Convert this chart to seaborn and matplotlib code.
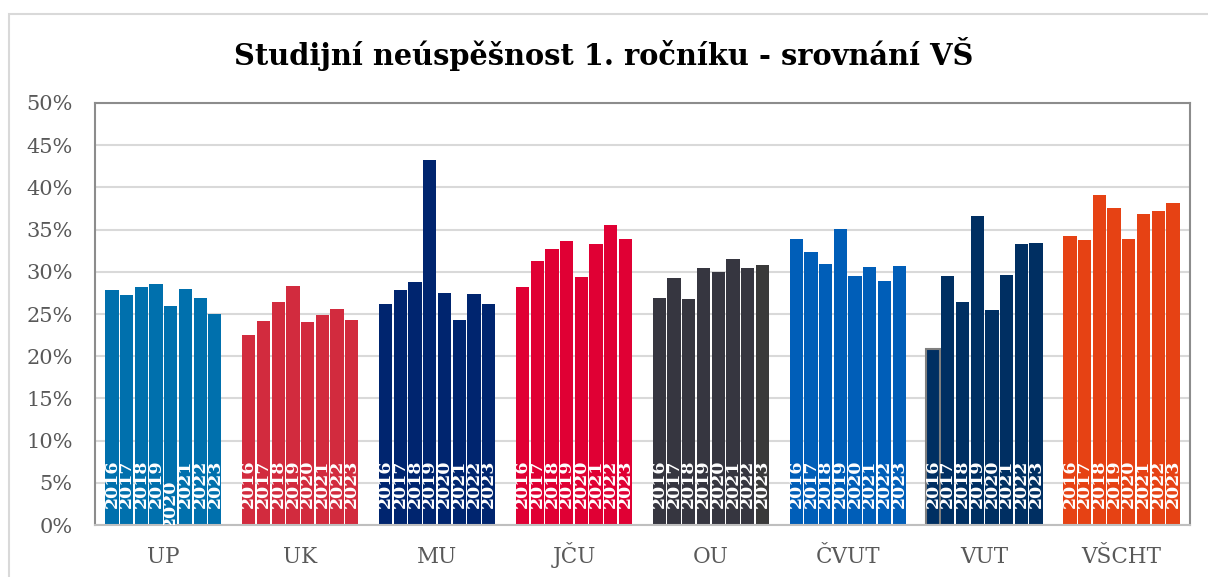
import pandas as pd
import matplotlib
matplotlib.use("Agg")
import matplotlib.pyplot as plt
import matplotlib.patches as patches
import seaborn as sns


# data
skoly = ['UP', 'UK', 'MU', 'JČU', 'OU', 'ČVUT', 'VUT', 'VŠCHT']
roky = ['2016', '2017', '2018', '2019', '2020', '2021', '2022', '2023']

up = [27.9, 27.3, 28.2, 28.6, 26.0, 28.0, 26.9, 25.0]
uk = [22.5, 24.2, 26.4, 28.3, 24.1, 24.9, 25.6, 24.3]
mu = [26.2, 27.9, 28.8, 43.3, 27.5, 24.3, 27.4, 26.2]
jcu = [28.2, 31.3, 32.7, 33.6, 29.4, 33.3, 35.6, 33.9]
ou = [26.9, 29.3, 26.8, 30.5, 30.0, 31.5, 30.4, 30.8]
cvut = [33.9, 32.4, 30.9, 35.1, 29.5, 30.6, 28.9, 30.7]
vut = [20.8, 29.5, 26.4, 36.6, 25.5, 29.6, 33.3, 33.4]
vscht = [34.3, 33.8, 39.1, 37.6, 33.9, 36.8, 37.2, 38.2]

barve = ['#0070ad', '#d22b3e', '#00256f', '#e00034', '#363640', '#005eb8', '#002f62', '#e64214']


def pripravi_tabelo():
    vrednosti = [up, uk, mu, jcu, ou, cvut, vut, vscht]
    vrstice = []
    for skola, vals in zip(skoly, vrednosti):
        for rok, v in zip(roky, vals):
            vrstice.append({'Škola': skola, 'Rok': rok, 'Neúspěšnost': v})
    return pd.DataFrame(vrstice)


df = pripravi_tabelo()

sns.set_style('white')
plt.rcParams['font.family'] = ['DejaVu Serif']

fig = plt.figure(figsize=(12.08, 5.77), dpi=100)
ax = fig.add_axes([0.0786, 0.0901, 0.9064, 0.7314])

sns.barplot(data=df, x='Škola', y='Neúspěšnost', hue='Rok', order=skoly, hue_order=roky,
            width=0.86, gap=0.1, legend=False, ax=ax, saturation=1, errorbar=None)

# recolor by school, label each bar with its year
for j, cont in enumerate(ax.containers):
    for i, bar in enumerate(cont):
        bar.set_facecolor(barve[i])
        bar.set_edgecolor('none')
        x = bar.get_x() + bar.get_width() / 2
        y0 = 2.0
        if skoly[i] == 'UP' and roky[j] == '2020':
            y0 = -0.4
        ax.text(x, y0, roky[j], rotation=90, ha='center', va='bottom', color='white',
                fontsize=12.5, fontweight='bold', clip_on=True)

ax.containers[7][4].set_facecolor('#3a3a3a')
vut_2016 = ax.containers[0][6]
vut_2016.set_edgecolor('#7f7f7f')
vut_2016.set_linewidth(1.5)

ax.set_ylim(0, 50)
ax.set_yticks(range(0, 51, 5))
ax.set_yticklabels([f'{v}%' for v in range(0, 51, 5)])
ax.yaxis.grid(True, color='#d9d9d9', linewidth=1.5)
ax.set_axisbelow(True)
ax.set_xlabel('')
ax.set_ylabel('')
ax.tick_params(axis='y', labelsize=15, colors='#595959', length=0, pad=16)
ax.tick_params(axis='x', labelsize=15.5, colors='#595959', length=0, pad=27)
for lbl in ax.get_xticklabels():
    lbl.set_verticalalignment('baseline')

for s in ['top', 'left', 'right']:
    ax.spines[s].set_color('#8c8c8c')
    ax.spines[s].set_linewidth(1.5)
ax.spines['bottom'].set_color('#bfbfbf')
ax.spines['bottom'].set_linewidth(1.5)

fig.text(0.5, 0.907, 'Studijní neúspěšnost 1. ročníku - srovnání VŠ', ha='center', va='center',
         fontsize=20.8, fontweight='bold', color='black')

# outer chart frame
fig.patches.append(patches.Rectangle((9 / 1208, -0.1), 1.2, 1 - 14 / 577 + 0.1,
                                     transform=fig.transFigure, fill=False,
                                     edgecolor='#d9d9d9', linewidth=1.5))

plt.savefig('out.png', dpi=100)
plt.close()
